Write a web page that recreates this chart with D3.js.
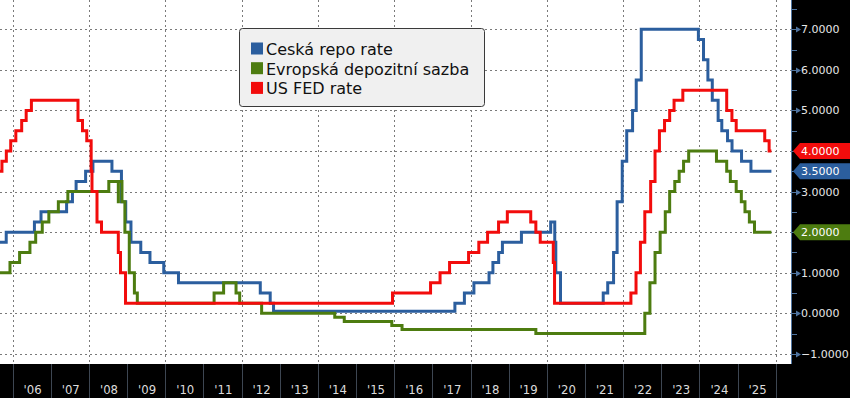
<!DOCTYPE html>
<html>
<head>
<meta charset="utf-8">
<script src="https://cdnjs.cloudflare.com/ajax/libs/d3/7.8.5/d3.min.js"></script>
<style>
  html, body { margin: 0; padding: 0; background: #000; }
  svg { display: block; }
</style>
</head>
<body>
<div id="chart"></div>
<script>
// step series: [date the rate took effect, rate %]
var ceskaRepo = [
  ["2005-09-01", 1.75], ["2005-10-31", 2.00], ["2006-07-28", 2.25], ["2006-09-29", 2.50],
  ["2007-06-01", 2.75], ["2007-07-27", 3.00], ["2007-08-31", 3.25], ["2007-11-30", 3.50],
  ["2008-02-08", 3.75], ["2008-08-08", 3.50], ["2008-11-07", 2.75], ["2008-12-18", 2.25],
  ["2009-02-06", 1.75], ["2009-05-11", 1.50], ["2009-08-07", 1.25], ["2009-12-17", 1.00],
  ["2010-05-07", 0.75], ["2012-06-28", 0.50], ["2012-10-01", 0.25], ["2012-11-02", 0.05],
  ["2017-08-04", 0.25], ["2017-11-03", 0.50], ["2018-02-02", 0.75], ["2018-06-27", 1.00],
  ["2018-08-03", 1.25], ["2018-09-27", 1.50], ["2018-11-02", 1.75], ["2019-05-03", 2.00],
  ["2020-02-07", 2.25], ["2020-03-17", 1.75], ["2020-03-27", 1.00], ["2020-05-11", 0.25],
  ["2021-06-24", 0.50], ["2021-08-06", 0.75], ["2021-10-01", 1.50], ["2021-11-04", 2.75],
  ["2021-12-23", 3.75], ["2022-02-04", 4.50], ["2022-04-01", 5.00], ["2022-05-06", 5.75],
  ["2022-06-23", 7.00], ["2023-12-22", 6.75], ["2024-02-09", 6.25], ["2024-03-22", 5.75],
  ["2024-05-03", 5.25], ["2024-06-28", 4.75], ["2024-08-02", 4.50], ["2024-09-26", 4.25],
  ["2024-11-08", 4.00], ["2025-02-07", 3.75], ["2025-05-08", 3.50]
];
var evropskaDepo = [
  ["2005-09-01", 1.00], ["2005-12-06", 1.25], ["2006-03-08", 1.50], ["2006-06-15", 1.75],
  ["2006-08-09", 2.00], ["2006-10-11", 2.25], ["2006-12-13", 2.50], ["2007-03-14", 2.75],
  ["2007-06-13", 3.00], ["2008-07-09", 3.25], ["2008-10-08", 2.75], ["2008-10-09", 3.25],
  ["2008-11-12", 2.75], ["2008-12-10", 2.00], ["2009-01-21", 1.00], ["2009-03-11", 0.50],
  ["2009-04-08", 0.25], ["2011-04-13", 0.50], ["2011-07-13", 0.75], ["2011-11-09", 0.50],
  ["2011-12-14", 0.25], ["2012-07-11", 0.00], ["2014-06-11", -0.10], ["2014-09-10", -0.20],
  ["2015-12-09", -0.30], ["2016-03-16", -0.40], ["2019-09-18", -0.50], ["2022-07-27", 0.00],
  ["2022-09-14", 0.75], ["2022-11-02", 1.50], ["2022-12-21", 2.00], ["2023-02-08", 2.50],
  ["2023-03-22", 3.00], ["2023-05-10", 3.25], ["2023-06-21", 3.50], ["2023-08-02", 3.75],
  ["2023-09-20", 4.00], ["2024-06-12", 3.75], ["2024-09-18", 3.50], ["2024-10-23", 3.25],
  ["2024-12-18", 3.00], ["2025-02-05", 2.75], ["2025-03-12", 2.50], ["2025-04-23", 2.25],
  ["2025-06-11", 2.00]
];
var usFed = [
  ["2005-09-01", 3.50], ["2005-09-20", 3.75], ["2005-11-01", 4.00], ["2005-12-13", 4.25],
  ["2006-01-31", 4.50], ["2006-03-28", 4.75], ["2006-05-10", 5.00], ["2006-06-29", 5.25],
  ["2007-09-18", 4.75], ["2007-10-31", 4.50], ["2007-12-11", 4.25], ["2008-01-22", 3.50],
  ["2008-01-30", 3.00], ["2008-03-18", 2.25], ["2008-04-30", 2.00], ["2008-10-08", 1.50],
  ["2008-10-29", 1.00], ["2008-12-16", 0.25], ["2015-12-16", 0.50], ["2016-12-14", 0.75],
  ["2017-03-15", 1.00], ["2017-06-14", 1.25], ["2017-12-13", 1.50], ["2018-03-21", 1.75],
  ["2018-06-13", 2.00], ["2018-09-26", 2.25], ["2018-12-19", 2.50], ["2019-07-31", 2.25],
  ["2019-09-18", 2.00], ["2019-10-30", 1.75], ["2020-03-03", 1.25], ["2020-03-15", 0.25],
  ["2022-03-16", 0.50], ["2022-05-04", 1.00], ["2022-06-15", 1.75], ["2022-07-27", 2.50],
  ["2022-09-21", 3.25], ["2022-11-02", 4.00], ["2022-12-14", 4.50], ["2023-02-01", 4.75],
  ["2023-03-22", 5.00], ["2023-05-03", 5.25], ["2023-07-26", 5.50], ["2024-09-18", 5.00],
  ["2024-11-07", 4.75], ["2024-12-18", 4.50], ["2025-09-17", 4.25], ["2025-10-29", 4.00]
];
var lastDate = "2025-11-20";

var seriesNames = ["Ceská repo rate", "Evropská depozitní sazba", "US FED rate"];
var seriesColors = ["#2b5e9e", "#4d7c10", "#f20c0c"];
var yearLabels = ["'06", "'07", "'08", "'09", "'10", "'11", "'12", "'13", "'14", "'15",
                  "'16", "'17", "'18", "'19", "'20", "'21", "'22", "'23", "'24", "'25"];
var yTicks = [-1, 0, 1, 2, 3, 4, 5, 6, 7];

(function () {
    var W = 850, H = 398, plotR = 791, plotB = 364;
    var parse = d3.timeParse("%Y-%m-%d");

    var svg = d3.select("#chart").append("svg").attr("width", W).attr("height", H);
    svg.append("rect").attr("width", W).attr("height", H).attr("fill", "#000");
    svg.append("rect").attr("width", plotR).attr("height", plotB).attr("fill", "#fff");

    var x = d3.scaleTime()
        .domain([parse("2006-01-01"), parse("2026-01-01")])
        .range([12.7, 775.8]);
    var y = d3.scaleLinear().domain([0, 7]).range([313.3, 29.3]);

    // dashed grid
    var grid = svg.append("g").attr("stroke", "#7a7a7a").attr("stroke-dasharray", "2,3").attr("stroke-width", 1);
    grid.selectAll(".h").data(yTicks).enter().append("line")
        .attr("x1", 0).attr("x2", plotR)
        .attr("y1", function (d) { return Math.round(y(d)) + 0.5; })
        .attr("y2", function (d) { return Math.round(y(d)) + 0.5; });
    var gridYears = d3.range(2006, 2027, 2);
    grid.selectAll(".v").data(gridYears).enter().append("line")
        .attr("y1", 0).attr("y2", plotB)
        .attr("x1", function (d) { return Math.round(x(new Date(d, 0, 1))) + 0.5; })
        .attr("x2", function (d) { return Math.round(x(new Date(d, 0, 1))) + 0.5; });

    // series
    svg.append("clipPath").attr("id", "clip").append("rect").attr("width", plotR).attr("height", plotB);
    var line = d3.line()
        .x(function (d) { return x(d[0]); })
        .y(function (d) { return y(d[1]); })
        .curve(d3.curveStepAfter);
    var end = parse(lastDate);
    [ceskaRepo, evropskaDepo, usFed].forEach(function (s, i) {
        var pts = s.map(function (d) { return [parse(d[0]), d[1]]; });
        pts.push([end, s[s.length - 1][1]]);
        svg.append("path").datum(pts)
            .attr("clip-path", "url(#clip)")
            .attr("fill", "none")
            .attr("stroke", seriesColors[i])
            .attr("stroke-width", 3)
            .attr("stroke-linejoin", "miter")
            .attr("d", line);
    });

    // legend
    var lg = svg.append("g");
    lg.append("rect").attr("x", 239.5).attr("y", 28.5).attr("width", 245).attr("height", 78)
        .attr("rx", 3).attr("fill", "#f0f0f0").attr("stroke", "#3a3a3a");
    seriesNames.forEach(function (n, i) {
        lg.append("rect").attr("x", 251).attr("y", 42.5 + i * 19.7).attr("width", 12).attr("height", 12)
            .attr("fill", seriesColors[i]);
        lg.append("text").attr("x", 266).attr("y", 55 + i * 19.7)
            .attr("font-family", "DejaVu Sans, sans-serif").attr("font-size", 16).attr("fill", "#111")
            .text(n);
    });

    // right axis
    var ax = svg.append("g");
    ax.append("line").attr("x1", plotR + 0.5).attr("x2", plotR + 0.5).attr("y1", 0).attr("y2", plotB)
        .attr("stroke", "#4f74a0");
    var minor = d3.range(-0.5, 7.6, 1);
    ax.selectAll(".mn").data(minor).enter().append("line")
        .attr("x1", plotR).attr("x2", plotR + 6)
        .attr("y1", function (d) { return Math.round(y(d)) + 0.5; })
        .attr("y2", function (d) { return Math.round(y(d)) + 0.5; })
        .attr("stroke", "#4f74a0");
    var mj = ax.selectAll(".mj").data(yTicks).enter().append("g")
        .attr("transform", function (d) { return "translate(0," + (Math.round(y(d)) + 0.5) + ")"; });
    mj.append("line").attr("x1", plotR).attr("x2", plotR + 6).attr("stroke", "#4f74a0");
    mj.append("path").attr("d", "M" + (plotR + 5) + ",-3L" + (plotR + 10) + ",0L" + (plotR + 5) + ",3Z")
        .attr("fill", "#4f74a0");
    mj.append("text").attr("x", 801).attr("dy", "0.36em")
        .attr("font-family", "DejaVu Sans, sans-serif").attr("font-size", 11).attr("fill", "#e6e6e6")
        .text(function (d) { return d3.format(".4f")(d); });

    // last value callouts
    var lastVals = [ceskaRepo, evropskaDepo, usFed].map(function (s) { return s[s.length - 1][1]; });
    lastVals.forEach(function (v, i) {
        var cy = y(v);
        var c = svg.append("g").attr("transform", "translate(0," + cy + ")");
        c.append("path").attr("d", "M793,0L800,-8L850,-8L850,8L800,8Z").attr("fill", seriesColors[i]);
        c.append("text").attr("x", 801).attr("dy", "0.36em")
            .attr("font-family", "DejaVu Sans, sans-serif").attr("font-size", 11).attr("fill", "#fff")
            .text(d3.format(".4f")(v));
    });

    // bottom year axis
    var years = d3.range(2006, 2027);
    svg.append("g").selectAll("line").data(years).enter().append("line")
        .attr("x1", function (d) { return Math.round(x(new Date(d, 0, 1))) + 0.5; })
        .attr("x2", function (d) { return Math.round(x(new Date(d, 0, 1))) + 0.5; })
        .attr("y1", plotB).attr("y2", H)
        .attr("stroke", "#3d4652");
    svg.append("g").selectAll("text").data(yearLabels).enter().append("text")
        .attr("x", function (d, i) { return x(new Date(2006 + i, 6, 1)) + 1; })
        .attr("y", 394)
        .attr("text-anchor", "middle")
        .attr("font-family", "DejaVu Sans Condensed, sans-serif")
        .attr("font-size", 13).attr("fill", "#dcdcdc")
        .text(function (d) { return d; });
})();
</script>
</body>
</html>
